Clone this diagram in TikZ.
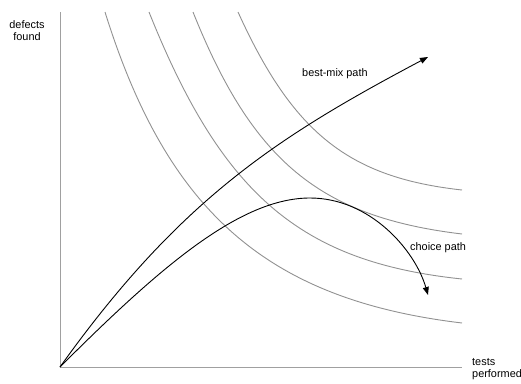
\documentclass[tikz,border=0pt]{standalone}
\usepackage{fontspec}
\setmainfont{Liberation Sans}
\usetikzlibrary{arrows.meta}
\definecolor{axisgray}{RGB}{160,160,160}
\definecolor{curvegray}{RGB}{145,145,145}
\tikzset{
  axisline/.style={draw=axisgray, line width=1pt},
  isocurve/.style={draw=curvegray, line width=0.9pt},
  pathline/.style={draw=black, line width=0.9pt, -{Triangle[length=8pt,width=6pt]}},
  lbl/.style={inner sep=0pt, font=\fontsize{10.9}{12.5}\selectfont}
}
\begin{document}
\begin{tikzpicture}[x=1pt,y=-1pt]
\useasboundingbox (0,0) rectangle (521,383);
% axes
\coordinate (O) at (60,367);
\coordinate (ytop) at (60,12);
\coordinate (xend) at (462,367);
\draw[axisline] (ytop) -- (O) -- (xend);
% iso curves
\coordinate (c1s) at (105,12);  \coordinate (c1e) at (462,323);
\coordinate (c2s) at (149,12);  \coordinate (c2e) at (462,279);
\coordinate (c3s) at (193,12);  \coordinate (c3e) at (462,234);
\coordinate (c4s) at (238,12);  \coordinate (c4e) at (462,190);
\draw[isocurve] (c1s) .. controls (167.6,212.6) and (267.6,299.7) .. (c1e);
\draw[isocurve] (c2s) .. controls (222,194.5) and (300.2,262) .. (c2e);
\draw[isocurve] (c3s) .. controls (252.8,161.5) and (319.7,216.9) .. (c3e);
\draw[isocurve] (c4s) .. controls (293,133.1) and (348.6,177.5) .. (c4e);
% paths
\coordinate (bestend) at (428,57);
\coordinate (peak) at (310,198);
\coordinate (choiceend) at (428,295);
\draw[pathline] (O) .. controls (180,199) and (278,136.5) .. (bestend);
\draw[pathline] (O) .. controls (160,267) and (240,198) .. (peak)
                    .. controls (370,198) and (415,250) .. (choiceend);
% labels
\node[lbl, anchor=base] (ylab1) at (27,28) {defects};
\node[lbl, anchor=base] (ylab2) at (27,40.5) {found};
\node[lbl, anchor=base west] (xlab1) at (472,365) {tests};
\node[lbl, anchor=base west] (xlab2) at (472,377) {performed};
\node[lbl, anchor=base west] (best) at (302,76) {best-mix path};
\node[lbl, anchor=base west] (choice) at (410,250) {choice path};
\end{tikzpicture}
\end{document}
